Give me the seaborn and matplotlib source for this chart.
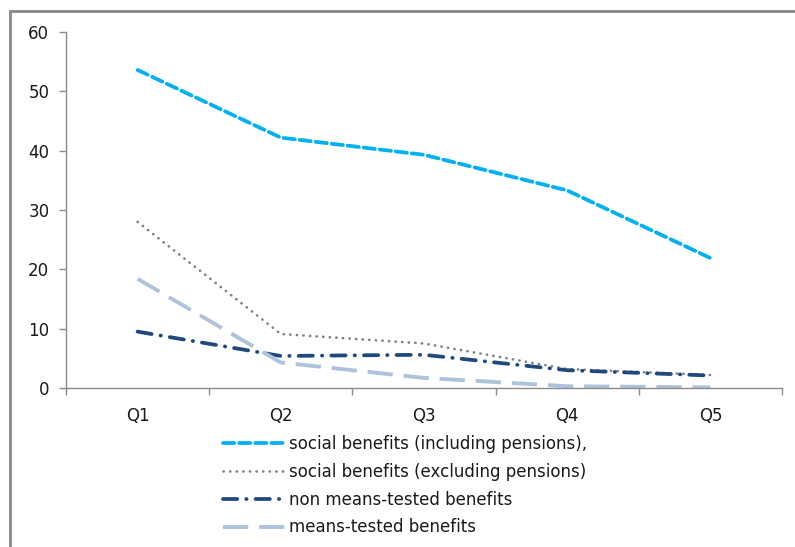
import matplotlib
matplotlib.use("Agg")
import matplotlib.pyplot as plt
from matplotlib.patches import Rectangle
from matplotlib.ticker import FixedLocator
import seaborn as sns
import pandas as pd

# Income quintiles and benefit shares (%)
quintiles = ["Q1", "Q2", "Q3", "Q4", "Q5"]
social_incl_pensions = [53.6, 42.2, 39.3, 33.3, 21.9]
social_excl_pensions = [28.0, 9.1, 7.5, 3.2, 2.2]
non_means_tested = [9.5, 5.4, 5.6, 3.0, 2.1]
means_tested = [18.4, 4.3, 1.7, 0.3, 0.1]

series_labels = [
    "social benefits (including pensions),",
    "social benefits (excluding pensions)",
    "non means-tested benefits",
    "means-tested benefits",
]
series_values = [social_incl_pensions, social_excl_pensions, non_means_tested, means_tested]

sns.set_theme(style="white")
plt.rcParams["font.family"] = ["DejaVu Sans"]

frames = []
for label, vals in zip(series_labels, series_values):
    frames.append(pd.DataFrame({"quintile": quintiles, "value": vals, "series": label}))
df = pd.concat(frames, ignore_index=True)
df["pos"] = df["quintile"].map({q: i for i, q in enumerate(quintiles)})

styles = {
    series_labels[0]: dict(color="#00B0F0", lw=2.7, dashes=(3.0, 1.3), cap="round"),
    series_labels[1]: dict(color="#808080", lw=1.9, dashes=(0.1, 2.4), cap="round"),
    series_labels[2]: dict(color="#1F497D", lw=2.7, dashes=(3.8, 2.4, 0.1, 2.4), cap="round"),
    series_labels[3]: dict(color="#AFC2DC", lw=2.8, dashes=(6.5, 2.8), cap="butt"),
}

fig = plt.figure(figsize=(7.95, 5.47), dpi=100)
ax = fig.add_axes([66 / 795, 1 - 388 / 547, (782 - 66) / 795, (388 - 32) / 547])

for label in series_labels:
    st = styles[label]
    sub = df[df["series"] == label]
    sns.lineplot(data=sub, x="pos", y="value", ax=ax, color=st["color"],
                 linewidth=st["lw"], label=label, legend=False)
    line = ax.lines[-1]
    line.set_dashes(st["dashes"])
    line.set_dash_capstyle(st["cap"])

ax.set_xlim(-0.5, len(quintiles) - 0.5)
ax.set_ylim(0, 60)
ax.set_yticks(range(0, 61, 10))
ax.set_xticks(range(len(quintiles)))
ax.set_xticklabels(quintiles)
ax.xaxis.set_minor_locator(FixedLocator([i - 0.5 for i in range(len(quintiles) + 1)]))
ax.set_xlabel("")
ax.set_ylabel("")

for side in ["top", "right"]:
    ax.spines[side].set_visible(False)
for side in ["left", "bottom"]:
    ax.spines[side].set_color("#8C8C8C")
    ax.spines[side].set_linewidth(1.0)

ax.tick_params(axis="y", which="major", direction="out", length=5, width=1,
               color="#8C8C8C", labelsize=12, labelcolor="#1A1A1A", pad=7, left=True)
ax.tick_params(axis="x", which="major", length=0, labelsize=12,
               labelcolor="#1A1A1A", pad=14)
ax.tick_params(axis="x", which="minor", direction="out", length=5, width=1,
               color="#8C8C8C", bottom=True)

handles = ax.lines[: len(series_labels)]
leg = fig.legend(handles, series_labels, loc="upper left",
                 bbox_to_anchor=(223 / 795, 1 - 435 / 547), frameon=False,
                 fontsize=12, handlelength=3.7, handletextpad=0.25,
                 labelspacing=0.59, borderaxespad=0, borderpad=0)
for t in leg.get_texts():
    t.set_color("#1A1A1A")

# Chart-area border (clipped at the right and bottom edges)
fig.patches.append(Rectangle((10 / 795, -0.05), 1.0, 1.05 - 11 / 547,
                             transform=fig.transFigure, fill=False,
                             edgecolor="#888888", linewidth=2.0))

fig.savefig("out.png", dpi=100)
